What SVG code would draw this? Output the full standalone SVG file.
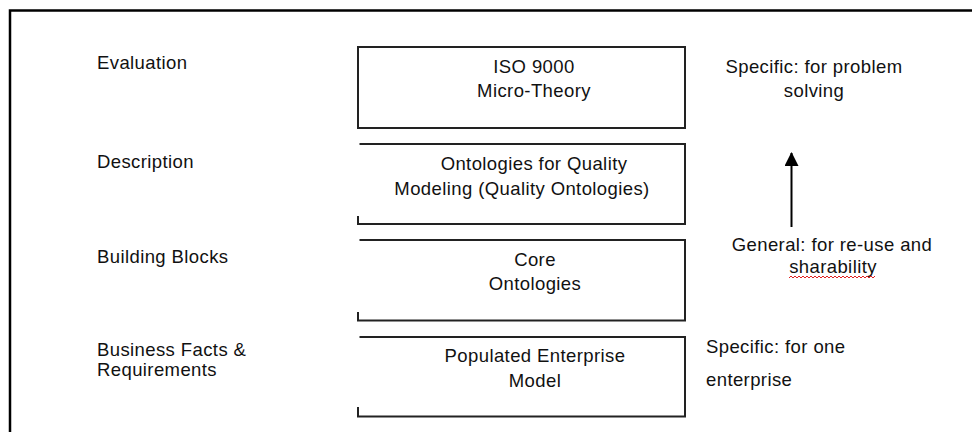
<svg xmlns="http://www.w3.org/2000/svg" width="972" height="432" viewBox="0 0 972 432">
  <style>
    text { font-family: "Liberation Sans", Arial, sans-serif; font-size: 18.5px; letter-spacing: 0.4px; fill: #111; }
    .c { text-anchor: middle; }
    .box { fill: none; stroke: #222; stroke-width: 2; }
    .frame { fill: none; stroke: #000; stroke-width: 2.5; }
  </style>
  <defs>
    <marker id="arrow" markerWidth="14" markerHeight="14" refX="13" refY="7" orient="auto" markerUnits="userSpaceOnUse" viewBox="0 0 14 14">
      <path d="M0,0 L14,7 L0,14 Z" fill="#000"/>
    </marker>
  </defs>
  <rect x="0" y="0" width="972" height="432" fill="#fff"/>
  <path class="frame" d="M10,432 V10.5 H972"/>

  <g id="labels">
    <text x="97" y="69">Evaluation</text>
    <text x="97" y="168">Description</text>
    <text x="97" y="263">Building Blocks</text>
    <text x="97" y="356">Business Facts &amp;</text>
    <text x="97" y="376">Requirements</text>
  </g>

  <g id="node-iso">
    <rect class="box" x="358" y="47" width="327" height="81"/>
    <text class="c" x="534" y="73">ISO 9000</text>
    <text class="c" x="534" y="97">Micro-Theory</text>
  </g>

  <g id="node-quality">
    <path class="box" d="M359.5,144 H685 V224 H358 V216"/>
    <text class="c" x="534" y="170">Ontologies for Quality</text>
    <text class="c" x="522" y="195">Modeling (Quality Ontologies)</text>
  </g>

  <g id="node-core">
    <path class="box" d="M359.5,240 H685 V320.5 H358 V312"/>
    <text class="c" x="535" y="266">Core</text>
    <text class="c" x="535" y="290">Ontologies</text>
  </g>

  <g id="node-populated">
    <path class="box" d="M359.5,337 H685 V416.5 H358 V407"/>
    <text class="c" x="535" y="362">Populated Enterprise</text>
    <text class="c" x="535" y="387">Model</text>
  </g>

  <g id="note-specific-top">
    <text class="c" x="814" y="73">Specific: for problem</text>
    <text class="c" x="814" y="97">solving</text>
  </g>

  <g id="note-general">
    <text class="c" x="832" y="251">General: for re-use and</text>
    <text class="c" x="833" y="273">sharability</text>
    <path d="M789,278 l2,-2 l2,2 l2,-2 l2,2 l2,-2 l2,2 l2,-2 l2,2 l2,-2 l2,2 l2,-2 l2,2 l2,-2 l2,2 l2,-2 l2,2 l2,-2 l2,2 l2,-2 l2,2 l2,-2 l2,2 l2,-2 l2,2 l2,-2 l2,2 l2,-2 l2,2 l2,-2 l2,2 l2,-2 l2,2 l2,-2 l2,2 l2,-2 l2,2 l2,-2 l2,2 l2,-2 l2,2 l2,-2 l2,2 l2,-2" fill="none" stroke="#e02020" stroke-width="1"/>
  </g>

  <g id="note-specific-bottom">
    <text x="706" y="353">Specific: for one</text>
    <text x="706" y="386">enterprise</text>
  </g>

  <g id="connectors">
    <line x1="791.5" y1="227" x2="791.5" y2="153" stroke="#000" stroke-width="2" marker-end="url(#arrow)"/>
  </g>
</svg>
